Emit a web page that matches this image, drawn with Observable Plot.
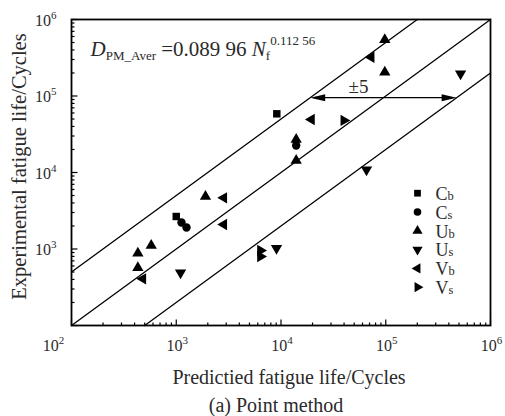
<!DOCTYPE html>
<html><head><meta charset="utf-8">
<script src="https://cdn.jsdelivr.net/npm/d3@7"></script>
<script src="https://cdn.jsdelivr.net/npm/@observablehq/plot@0.6"></script>
<style>
html,body{margin:0;padding:0;background:#fff;}
#chart svg{display:block;font-family:"Liberation Serif","Times New Roman",serif;}
</style></head><body><div id="chart"></div>
<script>
// ---- data ----
const cbX = [1000, 9120];
const cbY = [2660, 58500];
const csX = [1122, 1253, 13960];
const csY = [2220, 1910, 22540];
const ubX = [430, 577, 430, 1901, 13960, 13960, 97900, 97900];
const ubY = [881, 1112, 567, 4850, 27000, 14360, 543000, 204700];
const usX = [1099, 9060, 65500, 518000];
const usY = [489, 1024, 10840, 195000];
const vbX = [480, 2844, 2844, 19540, 72600];
const vbY = [408, 4670, 2090, 49300, 321000];
const vsX = [6370, 6370, 39800];
const vsY = [955, 798, 47900];

const legendLetters = ["C", "C", "U", "U", "V", "V"];
const legendSubs = ["b", "s", "b", "s", "b", "s"];
const bandFactors = [1, 5, 0.2];
const scatterFactor = 5;
const arrowLevel = 95000;
const xTickExp = [2, 3, 4, 5, 6];
const yTickExp = [3, 4, 5, 6];
const xTitle = "Predictied fatigue life/Cycles";
const yTitle = "Experimental fatigue life/Cycles";
const caption = "(a) Point method";

// ---- derived tables ----
const pts = (xs, ys) => xs.map((x, i) => ({x, y: ys[i]}));
const series = [
  {data: pts(cbX, cbY), symbol: "square", rotate: 0},
  {data: pts(csX, csY), symbol: "circle", rotate: 0},
  {data: pts(ubX, ubY), symbol: "triangle", rotate: 0},
  {data: pts(usX, usY), symbol: "triangle", rotate: 180},
  {data: pts(vbX, vbY), symbol: "triangle", rotate: -90},
  {data: pts(vsX, vsY), symbol: "triangle", rotate: 90}
];
const lo = 1e2, hi = 1e6;
const bandLines = bandFactors.map(f => [
  {x: Math.max(lo, lo / f), y: Math.max(lo, lo / f) * f},
  {x: Math.min(hi, hi / f), y: Math.min(hi, hi / f) * f}
]);
const decades = d3.range(2, 6);
const minor = decades.flatMap(e => d3.range(2, 10).map(m => m * 10 ** e));
const xMajor = xTickExp.map(e => 10 ** e);
const yMajor = [2, ...yTickExp].map(e => 10 ** e);

const rich = {};
xTickExp.forEach(e => rich["§x" + e] = `10<tspan dy="-7" font-size="11">${e}</tspan>`);
yTickExp.forEach(e => rich["§y" + e] = `10<tspan dy="-7" font-size="11">${e}</tspan>`);
legendLetters.forEach((l, i) => rich["§L" + i] = `${l}<tspan font-size="12.5">${legendSubs[i]}</tspan>`);
rich["§F"] = `<tspan font-style="italic">D</tspan><tspan font-size="13" dy="4">PM_Aver</tspan><tspan dy="-4"> =0.089 96 </tspan><tspan font-style="italic">N</tspan><tspan font-size="13" dy="4">f</tspan><tspan font-size="13" dy="-15">0.112 56</tspan>`;

const tickV = len => ({draw(ctx) { ctx.moveTo(0, 0); ctx.lineTo(0, -len); }});
const tickH = len => ({draw(ctx) { ctx.moveTo(0, 0); ctx.lineTo(len, 0); }});
const headR = {draw(ctx) { ctx.moveTo(0, 0); ctx.lineTo(-15, -3.5); ctx.lineTo(-15, 3.5); ctx.closePath(); }};
const headL = {draw(ctx) { ctx.moveTo(0, 0); ctx.lineTo(15, -3.5); ctx.lineTo(15, 3.5); ctx.closePath(); }};

const ink = "#2a2a2a";
const serif = '"Liberation Serif","Times New Roman",serif';
const marks = [
  ...bandLines.map(l => Plot.line(l, {x: "x", y: "y", stroke: "black", strokeWidth: 1.3})),
  Plot.ruleY([arrowLevel], {x1: arrowLevel / scatterFactor + 2000, x2: arrowLevel * scatterFactor - 40000, stroke: "black", strokeWidth: 1.3}),
  Plot.dot([arrowLevel / scatterFactor], {x: d => d, y: arrowLevel, symbol: headL, fill: "black", stroke: "none"}),
  Plot.dot([arrowLevel * scatterFactor], {x: d => d, y: arrowLevel, symbol: headR, fill: "black", stroke: "none"}),
  Plot.text(["±5"], {x: 55000, y: arrowLevel, dy: -5, lineAnchor: "bottom", fontSize: 19, fontFamily: serif, fill: ink, text: d => d}),
  ...series.map(s => Plot.dot(s.data, {x: "x", y: "y", symbol: s.symbol, rotate: s.rotate, r: 4.2, fill: "black", stroke: "none"})),
  // axis ticks (inside)
  Plot.dot(xMajor, {x: d => d, frameAnchor: "bottom", symbol: tickV(6), stroke: "black", fill: "none", strokeWidth: 1.2}),
  Plot.dot(minor, {x: d => d, frameAnchor: "bottom", symbol: tickV(3), stroke: "black", fill: "none", strokeWidth: 1.2}),
  Plot.dot(yMajor, {y: d => d, frameAnchor: "left", symbol: tickH(6), stroke: "black", fill: "none", strokeWidth: 1.2}),
  Plot.dot(minor, {y: d => d, frameAnchor: "left", symbol: tickH(3), stroke: "black", fill: "none", strokeWidth: 1.2}),
  Plot.frame({stroke: "black", strokeWidth: 1.8}),
  // tick labels
  Plot.text(xTickExp.slice(0, 1), {x: e => 10 ** e, frameAnchor: "bottom", dy: 25, dx: -18, lineAnchor: "bottom", fontSize: 16, fontFamily: serif, fill: ink, text: e => "§x" + e}),
  Plot.text(xTickExp.slice(1), {x: e => 10 ** e, frameAnchor: "bottom", dy: 25, dx: 1, lineAnchor: "bottom", fontSize: 16, fontFamily: serif, fill: ink, text: e => "§x" + e}),
  Plot.text(yTickExp, {y: e => 10 ** e, frameAnchor: "left", dx: -15, dy: 6, textAnchor: "end", lineAnchor: "bottom", fontSize: 16, fontFamily: serif, fill: ink, text: e => "§y" + e}),
  // titles
  Plot.text([xTitle], {frameAnchor: "bottom", textAnchor: "middle", dx: 8, dy: 58, lineAnchor: "bottom", fontSize: 20, fontFamily: serif, fill: ink, text: d => d}),
  Plot.text([yTitle], {frameAnchor: "left", textAnchor: "middle", dx: -46, dy: -6, rotate: -90, lineAnchor: "bottom", fontSize: 20.5, fontFamily: serif, fill: ink, text: d => d}),
  Plot.text([caption], {frameAnchor: "bottom", textAnchor: "middle", dx: -5, dy: 86, lineAnchor: "bottom", fontSize: 20, fontFamily: serif, fill: ink, text: d => d}),
  Plot.text(["§F"], {frameAnchor: "top-left", dx: 19, dy: 36, textAnchor: "start", lineAnchor: "bottom", fontSize: 21, fontFamily: serif, fill: ink, text: d => d}),
  // legend
  ...series.map((s, i) => Plot.dot([i], {frameAnchor: "top-right", dx: -73, dy: 173.7 + i * 18.8, symbol: s.symbol, rotate: s.rotate, r: 3.8, fill: "black", stroke: "none"})),
  ...legendLetters.map((l, i) => Plot.text([i], {frameAnchor: "top-right", dx: -55, dy: 180.5 + i * 18.8, textAnchor: "start", lineAnchor: "bottom", fontSize: 18, fontFamily: serif, fill: ink, text: d => "§L" + d}))
];

const chart = Plot.plot({
  width: 505, height: 416,
  marginLeft: 71, marginRight: 15, marginTop: 19, marginBottom: 91,
  style: {fontFamily: serif, background: "#fff"},
  x: {type: "log", domain: [lo, hi], axis: null},
  y: {type: "log", domain: [lo, hi], axis: null},
  marks
});
chart.querySelectorAll("text").forEach(t => {
  const k = t.textContent;
  if (rich[k]) t.innerHTML = rich[k];
});
document.getElementById("chart").appendChild(chart);
</script></body></html>
